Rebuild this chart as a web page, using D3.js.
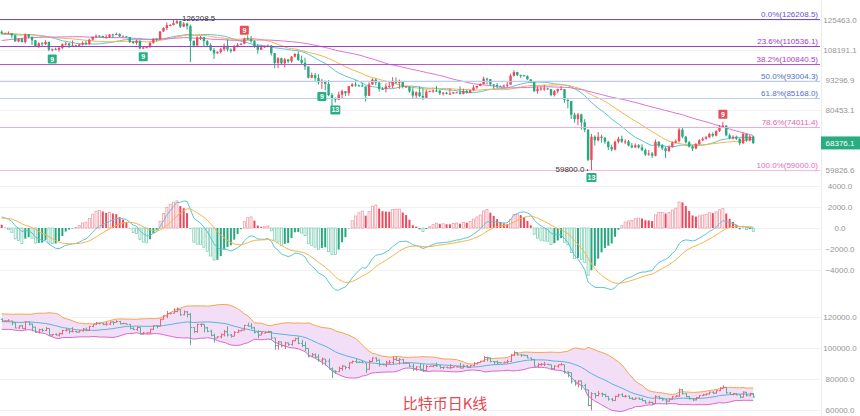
<!DOCTYPE html>
<html><head><meta charset="utf-8">
<script src="https://cdn.jsdelivr.net/npm/d3@7"></script>
<style>
html,body{margin:0;padding:0;background:#fff;}
svg{display:block;font-family:"Liberation Sans",Arial,sans-serif;}
</style></head><body>
<svg id="chart" width="860" height="416"></svg>
<script>
// ---------- DATA (prices in thousands of USD) ----------
const priorCloses = [106.8,104.6,104.9,104.7,103.3,102.1,100.9,105.6,106.0,107.3,106.9,107.1,107.3,108.4,107.1,
105.7,108.8,109.6,108.0,108.2,109.2,108.3,108.9,111.3,115.9,117.5,117.4,119.1,119.8,117.7,118.7,119.3,117.9,117.9,117.3,117.4,119.9,118.8,118.4,117.6,117.9,119.4,118.0,117.9,117.8,115.8,
113.3,112.5,114.2,115.1,114.1,115.0,117.5,116.7,116.5,119.3,118.7,120.2,123.3,118.4];
const firstOpen = 118.4;
const closes = [
117.4,117.5,117.5,116.3,112.9,114.3,112.5,116.9,115.4,113.5,
110.1,111.8,111.3,112.6,108.4,108.8,108.3,109.3,111.3,111.7,
110.7,110.7,110.2,111.1,112.1,111.5,113.9,115.5,116.1,115.9,
115.3,115.4,116.8,116.5,117.1,115.7,115.7,115.3,112.7,112.0,
113.3,109.0,109.6,109.7,112.1,114.4,114.0,118.6,120.6,122.3,
122.4,123.5,124.7,121.4,123.3,121.7,113.2,110.6,115.2,115.3,
113.0,110.8,108.2,106.4,107.2,108.6,110.5,108.4,107.6,110.1,
111.0,111.6,114.5,114.1,113.0,110.1,108.3,109.6,110.1,110.6,
106.5,101.5,103.9,101.3,103.3,102.3,104.7,106.0,103.0,101.6,
99.7,94.4,95.6,94.2,92.2,92.9,91.5,86.6,85.1,84.7,
86.8,88.3,87.4,90.5,91.3,90.9,90.8,90.4,86.3,91.3,
93.5,92.1,89.3,89.2,90.4,90.6,92.7,92.0,92.5,90.3,
90.3,88.2,86.4,87.8,86.2,85.5,88.1,88.3,88.6,88.5,
87.4,87.6,87.2,87.3,87.8,87.8,87.1,88.4,87.5,88.7,
89.9,90.6,91.4,93.9,93.7,91.3,91.0,90.5,90.4,90.8,
91.2,95.3,97.0,95.6,95.5,95.1,93.6,92.6,88.3,89.4,
89.5,89.5,89.2,86.6,88.3,89.2,89.2,84.6,84.1,78.6,
76.9,78.7,75.7,73.0,62.9,70.5,69.3,70.5,70.1,68.8,
67.0,66.2,68.8,69.8,68.8,68.9,67.5,66.9,67.6,66.9,
66.0,64.6,64.9,64.2,68.8,67.5,66.6,65.7,67.0,68.5,
69.0,73.0,70.5,68.6,67.2,66.5,68.0,69.3,69.8,70.3,
71.5,70.9,72.5,74.0,74.5,71.0,70.0,70.5,69.8,68.3,
71.5,69.2,70.6,68.3761];
const highs = [
119.2,117.9,118.6,117.6,116.8,114.6,114.8,117.4,117.0,115.7,
113.6,112.4,112.6,113.5,112.7,108.9,109.5,109.9,111.8,112.7,
112.0,113.4,111.0,111.6,112.9,113.2,114.3,115.5,116.8,116.4,
116.1,116.8,117.0,117.3,117.9,117.5,116.3,115.9,115.4,113.3,
114.0,113.4,110.3,110.0,112.4,114.5,114.8,118.7,121.1,123.9,
122.9,125.7,126.2085,125.1,124.2,123.8,122.6,113.4,115.7,115.9,
115.3,113.6,111.7,109.2,107.5,109.4,111.7,114.0,109.1,110.9,
112.0,111.9,115.0,116.3,116.0,113.6,111.5,111.0,110.6,111.2,
110.8,106.6,104.5,104.1,104.0,103.4,105.0,106.6,107.4,105.3,
104.1,99.8,96.8,96.6,96.0,93.8,92.9,93.2,87.5,85.6,
88.1,89.0,88.2,90.6,91.9,93.1,91.2,92.0,90.4,92.3,
94.1,94.0,92.7,90.0,91.8,92.3,94.6,94.5,93.5,92.8,
90.6,90.5,90.0,88.2,90.4,89.5,89.0,88.6,89.1,90.6,
88.9,87.9,88.0,89.5,88.0,88.0,90.4,89.4,89.0,88.9,
90.9,90.7,91.8,94.8,94.4,93.7,91.5,91.9,90.8,91.2,
92.5,96.2,97.9,97.2,95.8,95.6,95.5,93.6,92.8,90.4,
90.3,91.1,89.8,89.2,88.8,89.4,90.5,89.2,84.8,84.1,
79.4,79.3,79.0,76.9,73.1,71.5,71.0,72.2,71.2,70.5,
69.0,67.8,69.2,70.5,70.9,69.6,69.4,68.3,68.2,68.0,
67.9,66.5,66.0,65.4,69.5,68.9,68.0,67.2,67.6,68.9,
69.6,73.8,73.6,70.8,69.0,67.6,68.4,69.6,70.4,70.8,
71.9,72.0,72.8,74.7,75.9,74.6,71.6,71.0,70.9,70.0,
72.0,71.6,71.1,70.8];
const lows = [
116.8,117.2,117.3,114.7,112.7,112.4,112.4,111.7,114.6,110.8,
109.7,109.3,110.4,110.9,107.5,107.4,108.1,107.3,108.6,110.6,
109.3,110.2,110.0,110.1,110.6,110.8,110.9,113.4,114.8,115.2,
114.7,114.4,114.8,114.7,116.4,115.2,115.4,115.1,112.0,111.5,
111.1,108.6,108.6,109.2,109.4,111.6,112.7,113.9,118.2,119.3,
121.6,122.2,123.1,120.6,121.1,119.7,102.0,109.6,109.8,113.6,
110.0,110.2,107.6,103.5,106.4,106.3,107.5,107.4,106.7,107.5,
109.6,110.8,111.3,113.8,112.2,109.4,106.3,108.7,109.4,109.7,
105.3,98.9,98.9,100.3,99.3,101.4,101.6,104.3,102.5,100.6,
98.0,94.0,94.2,93.0,91.2,89.2,88.6,86.1,80.6,83.5,
84.6,85.3,86.1,86.3,90.1,90.2,90.3,90.3,83.9,86.2,
91.0,90.9,88.1,88.9,87.7,89.6,89.6,91.6,89.3,89.5,
89.8,87.6,85.2,85.3,85.8,84.5,85.1,88.0,87.6,87.9,
86.6,86.4,86.9,86.6,87.2,87.5,86.8,86.9,87.2,87.4,
88.3,89.3,90.5,91.3,91.4,90.7,89.3,89.6,90.2,90.1,
90.0,91.1,94.9,95.1,94.3,94.9,93.4,91.9,87.9,87.2,
88.5,88.4,88.9,86.1,86.0,87.3,88.8,83.4,81.1,77.0,
75.6,74.6,73.0,72.1,62.5,59.8,67.5,68.9,68.5,68.1,
66.0,65.6,65.9,68.2,68.4,68.0,67.2,66.6,66.7,66.5,
65.6,64.1,64.2,63.5,64.0,66.8,66.0,63.5,65.4,66.8,
68.2,68.5,70.0,68.2,66.8,65.7,66.3,67.8,69.0,69.5,
70.1,70.3,70.6,72.2,73.9,70.6,69.6,69.5,69.4,67.6,
68.0,68.8,68.9,68.0];

const priceTicks = [125463.0, 108191.1, 93296.9, 80453.1, 59826.6];
const macdTicks = [4000, 2000, 0, -2000, -4000];
const bollTicks = [120000, 100000, 80000, 60000];
const fibValues = [126208.5, 110536.1, 100840.5, 93004.3, 85168.0, 74011.4, 59800.0];
const fibLabels = ["0.0%(126208.5)","23.6%(110536.1)","38.2%(100840.5)","50.0%(93004.3)","61.8%(85168.0)","78.6%(74011.4)","100.0%(59000.0)"];
const lastPrice = 68376.1;
const athValue = 126208.5, athIndex = 52;
const lowValue = 59800.0, lowIndex = 175;
const markerIdx  = [15, 42, 72, 95, 99, 175, 214];
const markerText = ["9","9","9","9","13","13","9"];
const markerSide = ["buy","buy","sell","buy","buy","buy","sell"];
const maPeriods = [20, 30, 60];
const chartTitle = "比特币日K线";

// ---------- STYLE ----------
const UP = "#eb4b5c", DOWN = "#27a87f";
const maColors = ["#5cc4d4", "#f5b54a", "#de72d8"];
const fibLine = ["#6f4fd0","#9a3fc8","#b556cf","#b9cdf0","#b9cdf0","#f4a9dc","#f6b9e4"];
const fibText = ["#6a50d0","#9a40c8","#a640c4","#4f72c8","#4f72c8","#e065b8","#e06cc2"];
const AXIS = "#959595";

const N = closes.length;
const P = priorCloses.length;
const opens = closes.map((c,i)=> i===0 ? firstOpen : closes[i-1]);
const svg = d3.select("#chart");
const PLOT_R = 821;

const xS = d3.scaleLinear().domain([0, N-1]).range([1.7, 1.7 + (N-1)*3.37]);
const yTop = d3.scaleLog().domain([125463, 59826.6]).range([20, 170]);
const yMacd = d3.scaleLinear().domain([4000, -4000]).range([186, 270]);
const yBot = d3.scaleLinear().domain([120000, 60000]).range([317, 410]);

// ---------- INDICATORS ----------
const allC = priorCloses.concat(closes).map(v => v*1000);
function sma(a, n){ return a.map((_,k)=> k < n-1 ? null : d3.mean(a.slice(k-n+1, k+1))); }
function ema(a, n){ const al = 2/(n+1); const o=[]; a.forEach((v,k)=>o.push(k===0? v : al*v+(1-al)*o[k-1])); return o; }
const mas = maPeriods.map(p => sma(allC, p).slice(P));
const e12 = ema(allC,12), e26 = ema(allC,26);
const difAll = e12.map((v,k)=>v-e26[k]);
const deaAll = ema(difAll, 9);
const dif = difAll.slice(P), dea = deaAll.slice(P);
const histAll = difAll.map((v,k)=>2*(v-deaAll[k]));
const hist = histAll.slice(P);
const bollMid = sma(allC,20);
const bollSd = allC.map((_,k)=> k<19? null : Math.sqrt(d3.mean(allC.slice(k-19,k+1), v => (v-bollMid[k])**2)));
const bMid = bollMid.slice(P), bUp = bollMid.map((m,k)=>m+2*bollSd[k]).slice(P), bLo = bollMid.map((m,k)=>m-2*bollSd[k]).slice(P);

// ---------- DEFS / CLIPS ----------
const defs = svg.append("defs");
[["cTop",0,0,PLOT_R,186],["cMid",0,180,PLOT_R,114],["cBot",0,294,PLOT_R,122]].forEach(d=>{
  defs.append("clipPath").attr("id",d[0]).append("rect").attr("x",d[1]).attr("y",d[2]).attr("width",d[3]).attr("height",d[4]);
});

// ---------- GRID ----------
const grid = svg.append("g").attr("stroke","#f1f1f1").attr("stroke-width",1);
priceTicks.forEach(t=>grid.append("line").attr("x1",0).attr("x2",PLOT_R).attr("y1",Math.round(yTop(t))+0.5).attr("y2",Math.round(yTop(t))+0.5));
macdTicks.forEach(t=>grid.append("line").attr("x1",0).attr("x2",PLOT_R).attr("y1",Math.round(yMacd(t))+0.5).attr("y2",Math.round(yMacd(t))+0.5));
bollTicks.forEach(t=>grid.append("line").attr("x1",0).attr("x2",PLOT_R).attr("y1",Math.round(yBot(t))+0.5).attr("y2",Math.round(yBot(t))+0.5));
grid.append("line").attr("x1",PLOT_R+0.5).attr("x2",PLOT_R+0.5).attr("y1",0).attr("y2",416).attr("stroke","#ececec");

// ---------- TOP PANEL ----------
const gTop = svg.append("g").attr("clip-path","url(#cTop)");
fibValues.forEach((v,k)=>{
  const yy = Math.round(yTop(v))+0.5;
  svg.append("line").attr("x1",0).attr("x2",PLOT_R-1).attr("y1",yy).attr("y2",yy).attr("stroke",fibLine[k]).attr("stroke-width",1);
  svg.append("text").attr("x",PLOT_R-3).attr("y",yy-3).attr("text-anchor","end").attr("font-size",8).attr("fill",fibText[k]).text(fibLabels[k]);
});
const lineTop = d3.line().defined(d=>d[1]!=null).x(d=>xS(d[0])).y(d=>yTop(d[1]));
mas.forEach((m,k)=>{
  gTop.append("path").attr("d", lineTop(m.map((v,i)=>[i,v]))).attr("fill","none").attr("stroke",maColors[k]).attr("stroke-width",1);
});
const cg = gTop.append("g");
closes.forEach((c,i)=>{
  const o = opens[i], up = c >= o, col = up ? UP : DOWN;
  const h = Math.max(highs[i], o, c), l = Math.min(lows[i], o, c);
  const cx = xS(i);
  cg.append("line").attr("x1",cx).attr("x2",cx).attr("y1",yTop(h*1000)).attr("y2",yTop(l*1000)).attr("stroke",col).attr("stroke-width",1);
  const y1 = yTop(Math.max(o,c)*1000), y2 = yTop(Math.min(o,c)*1000);
  cg.append("rect").attr("x",cx-1.2).attr("width",2.4).attr("y",y1).attr("height",Math.max(1,y2-y1)).attr("fill",col);
});
svg.append("text").attr("x",xS(athIndex)+5).attr("y",yTop(athValue)).attr("dy","0.3em").attr("font-size",8).attr("fill","#333").text(d3.format(".1f")(athValue));
svg.append("text").attr("x",xS(lowIndex)-7).attr("y",yTop(lowValue)).attr("dy","0.3em").attr("text-anchor","end").attr("font-size",8).attr("fill","#333").text(d3.format(".1f")(lowValue));
svg.append("circle").attr("cx",xS(lowIndex)-4).attr("cy",yTop(lowValue)).attr("r",0.8).attr("fill","#333");
markerIdx.forEach((i,k)=>{
  const buy = markerSide[k]==="buy";
  const w = markerText[k].length>1 ? 10 : 9, hgt = 9;
  const yy = buy ? yTop(lows[i]*1000)+3 : yTop(highs[i]*1000)-3-hgt;
  svg.append("rect").attr("x",xS(i)-w/2).attr("y",yy).attr("width",w).attr("height",hgt).attr("rx",1).attr("fill",buy?"#2aae84":"#e5505a");
  svg.append("text").attr("x",xS(i)).attr("y",yy+hgt/2).attr("dy","0.36em").attr("text-anchor","middle").attr("font-size",7).attr("font-weight","bold").attr("fill","#fff").text(markerText[k]);
});
priceTicks.forEach(t=>{
  svg.append("text").attr("x",840).attr("y",yTop(t)).attr("dy","0.35em").attr("text-anchor","middle").attr("font-size",8).attr("fill",AXIS).text(d3.format(".1f")(t));
});
const py = yTop(lastPrice);
svg.append("rect").attr("x",PLOT_R).attr("y",py-6.5).attr("width",860-PLOT_R).attr("height",13).attr("fill","#27ad80");
svg.append("text").attr("x",840).attr("y",py).attr("dy","0.35em").attr("text-anchor","middle").attr("font-size",8).attr("fill","#fff").text(d3.format(".1f")(lastPrice));

// ---------- MACD PANEL ----------
const gMid = svg.append("g").attr("clip-path","url(#cMid)");
hist.forEach((h,i)=>{
  const prev = histAll[P+i-1];
  const growing = Math.abs(h) > Math.abs(prev);
  const pos = h >= 0;
  const y0 = yMacd(0), y1 = yMacd(h);
  const ya = Math.min(y0,y1), hh = Math.max(0.5, Math.abs(y1-y0));
  const base = pos ? UP : DOWN, light = pos ? "#f39aa6" : "#7fcfb2";
  const r = gMid.append("rect").attr("x",xS(i)-1).attr("width",2).attr("y",ya).attr("height",hh);
  if (growing) r.attr("fill","#fff").attr("stroke",light).attr("stroke-width",0.8);
  else r.attr("fill",base);
});
const lineM = d3.line().x((d,i)=>xS(i)).y(d=>yMacd(d));
gMid.append("path").attr("d",lineM(dif)).attr("fill","none").attr("stroke","#5cc4d4").attr("stroke-width",1);
gMid.append("path").attr("d",lineM(dea)).attr("fill","none").attr("stroke","#f5b54a").attr("stroke-width",1);
macdTicks.forEach(t=>{
  svg.append("text").attr("x",840).attr("y",yMacd(t)).attr("dy","0.35em").attr("text-anchor","middle").attr("font-size",8).attr("fill",AXIS).text(d3.format(".1f")(t));
});

// ---------- BOLL PANEL ----------
const gBot = svg.append("g").attr("clip-path","url(#cBot)");
const area = d3.area().x((d,i)=>xS(i)).y0((d,i)=>yBot(bLo[i])).y1((d,i)=>yBot(bUp[i]));
gBot.append("path").attr("d",area(bMid)).attr("fill","#f2daf6").attr("opacity",0.9);
const lineB = d3.line().x((d,i)=>xS(i)).y(d=>yBot(d));
gBot.append("path").attr("d",lineB(bUp)).attr("fill","none").attr("stroke","#f5a54a").attr("stroke-width",1);
gBot.append("path").attr("d",lineB(bLo)).attr("fill","none").attr("stroke","#dd66cf").attr("stroke-width",1);
gBot.append("path").attr("d",lineB(bMid)).attr("fill","none").attr("stroke","#55b6d8").attr("stroke-width",1);
closes.forEach((c,i)=>{
  const o = opens[i], col = c>=o ? "#e8697a" : "#5fae9c";
  const h = Math.max(highs[i],o,c), l = Math.min(lows[i],o,c), cx = Math.round(xS(i))+0.5;
  gBot.append("line").attr("x1",cx).attr("x2",cx).attr("y1",yBot(h*1000)).attr("y2",yBot(l*1000)).attr("stroke",col).attr("stroke-width",1);
  gBot.append("line").attr("x1",cx-1.6).attr("x2",cx).attr("y1",yBot(o*1000)).attr("y2",yBot(o*1000)).attr("stroke",col).attr("stroke-width",1);
  gBot.append("line").attr("x1",cx).attr("x2",cx+1.6).attr("y1",yBot(c*1000)).attr("y2",yBot(c*1000)).attr("stroke",col).attr("stroke-width",1);
});
bollTicks.forEach(t=>{
  svg.append("text").attr("x",840).attr("y",yBot(t)).attr("dy","0.35em").attr("text-anchor","middle").attr("font-size",8).attr("fill",AXIS).text(d3.format(".1f")(t));
});

// ---------- TITLE ----------
svg.append("text").attr("x",445).attr("y",409).attr("text-anchor","middle").attr("font-size",15)
  .attr("font-family","'Noto Sans CJK SC',sans-serif").attr("fill","#e5474f").text(chartTitle);
</script>
</body></html>
